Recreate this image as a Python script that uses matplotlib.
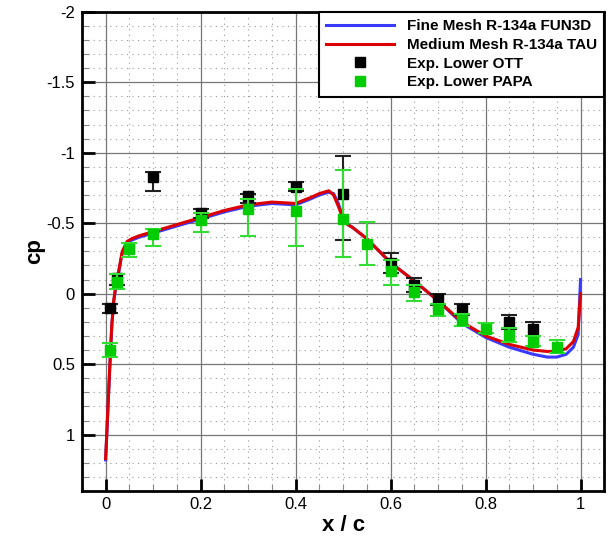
import numpy as np
import matplotlib
matplotlib.use('Agg')
import matplotlib.pyplot as plt
from matplotlib.lines import Line2D
from matplotlib.ticker import MultipleLocator

plt.rcParams['font.family'] = ['Liberation Sans', 'DejaVu Sans']

# lower-surface pressure distribution, CFD
x_tau = [0.0, 0.003, 0.006, 0.009, 0.013, 0.017, 0.022, 0.027, 0.035, 0.045,
         0.055, 0.07, 0.1, 0.15, 0.2, 0.25, 0.3, 0.35, 0.4, 0.43, 0.45, 0.47,
         0.48, 0.49, 0.5, 0.51, 0.52, 0.55, 0.6, 0.65, 0.7, 0.75, 0.8, 0.85,
         0.9, 0.93, 0.95, 0.97, 0.985, 0.995, 1.0]
cp_tau = [1.17, 0.95, 0.72, 0.50, 0.22, 0.05, -0.07, -0.15, -0.30, -0.37,
          -0.39, -0.41, -0.44, -0.49, -0.54, -0.59, -0.63, -0.65, -0.64, -0.68,
          -0.71, -0.73, -0.70, -0.62, -0.53, -0.49, -0.47, -0.39, -0.22, -0.09,
          0.05, 0.20, 0.30, 0.36, 0.40, 0.41, 0.41, 0.39, 0.34, 0.24, 0.0]

x_fun3d = [0.0, 0.003, 0.006, 0.009, 0.013, 0.017, 0.022, 0.027, 0.035, 0.045,
           0.055, 0.07, 0.1, 0.15, 0.2, 0.25, 0.3, 0.35, 0.4, 0.43, 0.45, 0.47,
           0.48, 0.49, 0.5, 0.51, 0.52, 0.55, 0.6, 0.65, 0.7, 0.75, 0.8, 0.85,
           0.9, 0.93, 0.95, 0.97, 0.985, 0.995, 1.0]
cp_fun3d = [1.18, 0.96, 0.73, 0.51, 0.23, 0.06, -0.06, -0.14, -0.29, -0.36,
            -0.38, -0.40, -0.43, -0.48, -0.53, -0.58, -0.62, -0.64, -0.63, -0.67,
            -0.70, -0.72, -0.71, -0.64, -0.54, -0.49, -0.47, -0.39, -0.22, -0.09,
            0.05, 0.21, 0.31, 0.38, 0.43, 0.45, 0.45, 0.43, 0.38, 0.29, -0.10]

# experiment, OTT
x_ott = [0.01, 0.025, 0.1, 0.2, 0.3, 0.4, 0.5, 0.6, 0.65, 0.7, 0.75, 0.85, 0.9]
cp_ott = [0.10, -0.11, -0.83, -0.57, -0.69, -0.76, -0.71, -0.22, -0.06, 0.04,
          0.11, 0.20, 0.25]
ott_min = [0.07, -0.14, -0.86, -0.60, -0.71, -0.79, -0.98, -0.29, -0.11, 0.00,
           0.07, 0.15, 0.20]
ott_max = [0.14, -0.06, -0.73, -0.54, -0.64, -0.73, -0.38, -0.15, -0.01, 0.08,
           0.15, 0.25, 0.30]

# experiment, PAPA
x_papa = [0.01, 0.025, 0.05, 0.1, 0.2, 0.3, 0.4, 0.5, 0.55, 0.6, 0.65, 0.7,
          0.75, 0.8, 0.85, 0.9, 0.95]
cp_papa = [0.40, -0.08, -0.32, -0.42, -0.52, -0.60, -0.59, -0.53, -0.35, -0.16,
           -0.01, 0.11, 0.19, 0.25, 0.29, 0.34, 0.38]
papa_min = [0.35, -0.14, -0.36, -0.46, -0.57, -0.67, -0.74, -0.88, -0.51, -0.24,
            -0.06, 0.07, 0.145, 0.205, 0.245, 0.30, 0.33]
papa_max = [0.45, -0.03, -0.26, -0.34, -0.44, -0.41, -0.34, -0.26, -0.20, -0.06,
            0.05, 0.16, 0.23, 0.28, 0.34, 0.37, 0.42]

labels = ['Fine Mesh R-134a FUN3D', 'Medium Mesh R-134a TAU',
          'Exp. Lower OTT', 'Exp. Lower PAPA']


def err(cp, lo, hi):
    cp, lo, hi = np.array(cp), np.array(lo), np.array(hi)
    return [cp - lo, hi - cp]


fig = plt.figure(figsize=(6.11, 5.36), dpi=100)
ax = fig.add_axes([0.134, 0.084, 0.855, 0.894])

ax.plot(x_fun3d, cp_fun3d, color='#3a3aff', lw=2.2, zorder=3)
ax.plot(x_tau, cp_tau, color='#dd0000', lw=2.2, zorder=4)

ax.errorbar(x_ott, cp_ott, yerr=err(cp_ott, ott_min, ott_max), fmt='s',
            color='black', ms=7.5, ecolor='#222222', elinewidth=1.5,
            capsize=5.5, capthick=1.5, zorder=5)
ax.errorbar(x_papa, cp_papa, yerr=err(cp_papa, papa_min, papa_max), fmt='s',
            color='#00cc00', ms=7.5, ecolor='#33dd33', elinewidth=1.5,
            capsize=5.5, capthick=1.5, zorder=6)

ax.set_xlim(-0.05, 1.05)
ax.set_ylim(1.4, -2)
ax.xaxis.set_minor_locator(MultipleLocator(0.05))
ax.yaxis.set_minor_locator(MultipleLocator(0.1))
ax.set_xticks([0, 0.2, 0.4, 0.6, 0.8, 1])
ax.set_xticklabels(['0', '0.2', '0.4', '0.6', '0.8', '1'])
ax.set_yticks([-2, -1.5, -1, -0.5, 0, 0.5, 1])
ax.set_yticklabels(['-2', '-1.5', '-1', '-0.5', '0', '0.5', '1'])

ax.grid(which='major', color='#777777', lw=0.9, ls='-')
ax.grid(which='minor', color='#999999', lw=0.8, ls=(0, (1, 4)))
ax.set_axisbelow(True)

ax.tick_params(which='major', direction='in', length=9, width=2, labelsize=12,
               top=False, right=False)
ax.tick_params(which='minor', direction='in', length=5, width=0.8, color='#888888',
               top=False, right=False)
ax.tick_params(axis='x', which='major', pad=4.5)
ax.tick_params(axis='y', which='major', pad=5)
for sp in ax.spines.values():
    sp.set_linewidth(2)

ax.set_xlabel('x / c', fontsize=16, fontweight='bold', labelpad=2)
ax.set_ylabel('cp', fontsize=16, fontweight='bold')
ax.yaxis.set_label_coords(-0.07, 0.5)

# legend shows plain squares for the experiments, no error bars
handles = [
    Line2D([], [], color='#3a3aff', lw=2.2),
    Line2D([], [], color='#dd0000', lw=2.2),
    Line2D([], [], ls='none', marker='s', color='black', ms=7.5),
    Line2D([], [], ls='none', marker='s', color='#00cc00', ms=7.5),
]
leg = ax.legend(handles, labels, loc='upper right', bbox_to_anchor=(1, 1),
                borderaxespad=0, fancybox=False, edgecolor='black', framealpha=1,
                prop={'weight': 'bold', 'size': 11}, handlelength=4.4,
                handletextpad=0.85, labelspacing=0.3, borderpad=0.5)
leg.get_frame().set_linewidth(1.5)

fig.savefig('out.png', dpi=100)
